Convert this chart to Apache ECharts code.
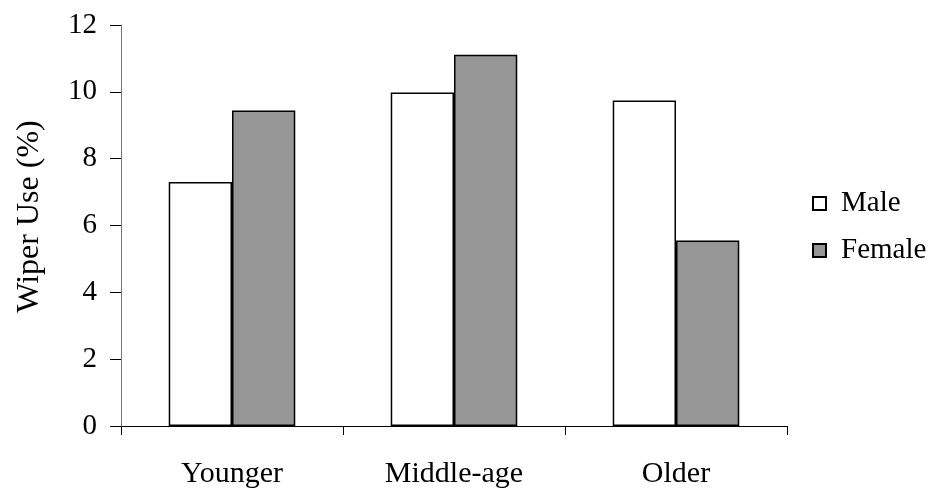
<!DOCTYPE html>
<html><head><meta charset="utf-8">
<script src="https://cdn.jsdelivr.net/npm/echarts@6/dist/echarts.min.js"></script>
<style>html,body{margin:0;padding:0;background:#fff}#c{width:929px;height:492px}</style>
</head><body><div id="c"></div>
<script>
const categories = ['Younger', 'Middle-age', 'Older'];
const maleValues = [7.3, 9.98, 9.74];
const femaleValues = [9.44, 11.11, 5.55];
const yTicks = [0, 2, 4, 6, 8, 10, 12];

const FONT = 'Liberation Serif';
const chart = echarts.init(document.getElementById('c'), null, {renderer: 'canvas'});
chart.setOption({
  animation: false,
  backgroundColor: '#fff',
  grid: {left: 121, right: 142, top: 25, bottom: 66, containLabel: false},
  legend: {
    orient: 'vertical', left: 812, top: 189, itemWidth: 13, itemHeight: 13, itemGap: 18,
    icon: 'rect', padding: 0,
    textStyle: {fontFamily: FONT, fontSize: 29, color: '#000', padding: [0, 0, 0, 10]},
    data: ['Male', 'Female']
  },
  xAxis: {
    type: 'category', data: categories,
    axisLine: {lineStyle: {color: '#000', width: 1}},
    axisTick: {show: true, length: 9, lineStyle: {color: '#000'}},
    axisLabel: {fontFamily: FONT, fontSize: 30, color: '#000', margin: 33},
    splitLine: {show: false}
  },
  yAxis: {
    type: 'value', min: yTicks[0], max: yTicks[yTicks.length - 1], interval: 2,
    name: 'Wiper Use (%)', nameLocation: 'middle', nameGap: 75,
    nameTextStyle: {fontFamily: FONT, fontSize: 32, color: '#000', padding: [0, 0, 0, 18]},
    axisLine: {show: true, lineStyle: {color: '#777', width: 1}},
    axisTick: {show: true, inside: false, length: 11, lineStyle: {color: '#000'}},
    axisLabel: {fontFamily: FONT, fontSize: 29, color: '#000', margin: 24},
    splitLine: {show: false}
  },
  series: [
    {name: 'Male', type: 'bar', data: maleValues, barGap: 0, barCategoryGap: '43%',
     itemStyle: {color: '#fff', borderColor: '#000', borderWidth: 1.5}},
    {name: 'Female', type: 'bar', data: femaleValues, barGap: 0, barCategoryGap: '43%',
     itemStyle: {color: '#969696', borderColor: '#000', borderWidth: 1.5}}
  ]
});
</script></body></html>
